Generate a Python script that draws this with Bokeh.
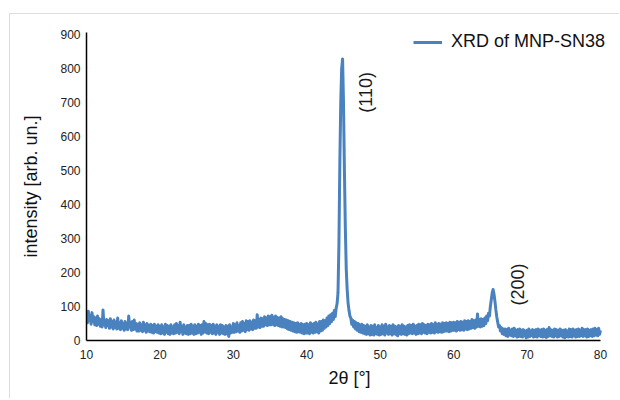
from bokeh.plotting import figure
from bokeh.models import Range1d, Legend, LegendItem, ColumnDataSource, FixedTicker
from bokeh.core.properties import value
from bokeh.embed import file_html
from bokeh.resources import INLINE
import math

series_name = "XRD of MNP-SN38"
x_label = "2θ [°]"
y_label = "intensity [arb. un.]"
x_ticks = [10, 20, 30, 40, 50, 60, 70, 80]
y_ticks = [0, 100, 200, 300, 400, 500, 600, 700, 800, 900]

two_theta_start = 10.0
two_theta_step = 0.125

intensity = [
    80, 52, 86, 58, 74, 48, 82, 56,     # 10
    70, 46, 66, 44, 72, 48, 64, 42,     # 11
    60, 40, 90, 46, 58, 38, 62, 44,     # 12
    58, 36, 64, 40, 56, 34, 60, 38,     # 13
    54, 34, 66, 36, 52, 32, 58, 36,     # 14
    50, 30, 56, 34, 48, 32, 72, 40,     # 15
    52, 30, 56, 32, 60, 34, 50, 28,     # 16
    48, 28, 52, 30, 46, 26, 54, 30,     # 17
    46, 24, 50, 28, 44, 26, 48, 24,     # 18
    44, 22, 48, 26, 42, 24, 46, 22,     # 19
    42, 20, 46, 22, 40, 18, 48, 24,     # 20
    44, 20, 42, 18, 46, 22, 40, 20,     # 21
    46, 22, 50, 24, 44, 20, 54, 26,     # 22
    42, 18, 46, 22, 40, 20, 44, 18,     # 23
    44, 20, 48, 22, 42, 18, 46, 20,     # 24
    42, 22, 48, 24, 44, 18, 46, 22,     # 25
    56, 26, 50, 22, 46, 20, 48, 24,     # 26
    44, 20, 48, 22, 42, 18, 46, 24,     # 27
    42, 18, 46, 22, 44, 20, 40, 18,     # 28
    44, 20, 42, 12, 46, 22, 40, 24,     # 29
    50, 24, 46, 26, 52, 28, 44, 24,     # 30
    52, 28, 56, 30, 50, 26, 58, 32,     # 31
    56, 30, 58, 34, 54, 32, 60, 36,     # 32
    58, 36, 76, 40, 62, 38, 66, 42,     # 33
    64, 42, 70, 46, 66, 44, 72, 46,     # 34
    70, 46, 74, 48, 68, 44, 72, 46,     # 35
    68, 44, 66, 42, 70, 40, 64, 40,     # 36
    62, 38, 60, 34, 58, 32, 56, 30,     # 37
    54, 28, 52, 26, 50, 24, 52, 26,     # 38
    48, 24, 50, 22, 46, 20, 48, 22,     # 39
    50, 22, 46, 20, 52, 24, 48, 22,     # 40
    50, 24, 54, 26, 48, 22, 56, 28,     # 41
    56, 30, 60, 36, 58, 40, 66, 44,     # 42
    72, 50, 76, 56, 80, 62, 88, 70,     # 43
    95, 108, 140, 280, 520, 700, 800, 828,  # 44
    700, 500, 330, 210, 150, 110, 88, 72,   # 45
    66, 48, 60, 40, 56, 34, 52, 30,     # 46
    50, 26, 46, 24, 48, 22, 44, 20,     # 47
    42, 18, 46, 20, 40, 16, 44, 18,     # 48
    42, 16, 46, 20, 38, 18, 44, 16,     # 49
    40, 18, 46, 20, 42, 16, 48, 22,     # 50
    40, 18, 44, 20, 42, 16, 46, 20,     # 51
    42, 18, 40, 14, 44, 20, 42, 18,     # 52
    46, 20, 42, 18, 40, 16, 44, 20,     # 53
    46, 22, 44, 20, 48, 22, 42, 18,     # 54
    44, 20, 48, 22, 46, 20, 50, 24,     # 55
    46, 22, 44, 20, 48, 24, 46, 22,     # 56
    50, 24, 46, 22, 52, 26, 48, 24,     # 57
    50, 26, 48, 24, 52, 26, 50, 28,     # 58
    52, 28, 50, 26, 54, 28, 52, 30,     # 59
    54, 30, 52, 28, 56, 32, 54, 30,     # 60
    56, 32, 54, 30, 58, 34, 56, 32,     # 61
    58, 34, 56, 36, 62, 38, 58, 36,     # 62
    60, 40, 78, 42, 62, 40, 64, 42,     # 63
    62, 44, 66, 50, 72, 58, 80, 72,     # 64
    100, 120, 140, 150, 136, 115, 90, 70,  # 65
    54, 40, 44, 28, 38, 20, 34, 18,     # 66
    34, 14, 32, 12, 36, 16, 30, 14,     # 67
    34, 12, 36, 14, 30, 10, 32, 12,     # 68
    34, 12, 30, 10, 32, 14, 28, 8,      # 69
    30, 10, 34, 12, 28, 14, 32, 10,     # 70
    30, 12, 32, 10, 34, 14, 30, 12,     # 71
    32, 10, 34, 12, 30, 9, 32, 12,      # 72
    38, 14, 32, 12, 30, 10, 34, 14,     # 73
    32, 10, 30, 12, 34, 14, 30, 10,     # 74
    30, 8, 32, 12, 28, 10, 34, 12,      # 75
    32, 10, 34, 14, 30, 10, 32, 12,     # 76
    34, 12, 30, 14, 36, 12, 32, 14,     # 77
    32, 10, 34, 12, 30, 14, 32, 12,     # 78
    34, 14, 36, 16, 32, 14, 36, 18,     # 79
    30,                                 # 80
]
two_theta = [two_theta_start + two_theta_step * i for i in range(len(intensity))]

peak_labels = ["(110)", "(200)"]
peak_label_x = [48.0, 68.7]
peak_label_y = [670, 103]

FONT = "Liberation Sans"
LINE_COLOR = "#4a81bf"

# canvas starts at page x=10; frame 86..612 px; x axis line drawn only for 10..80 (ends at 600 px)
p = figure(width=610, height=385, output_backend="svg", toolbar_location=None,
           x_range=Range1d(10, 81.634), y_range=Range1d(0, 906),
           min_border_left=76, min_border_right=8, min_border_top=18, min_border_bottom=59,
           margin=(13, 0, 0, 9))
p.styles = {"border-top": "1px solid #dddddd", "border-left": "1px solid #dddddd"}
p.outline_line_color = None
p.xgrid.grid_line_color = None
p.ygrid.grid_line_color = None
p.background_fill_color = "white"
p.border_fill_color = "white"

r = p.line(two_theta, intensity, line_color=LINE_COLOR, line_width=3, line_join="round")

src = ColumnDataSource(dict(x=peak_label_x, y=peak_label_y, t=peak_labels))
p.text(x="x", y="y", text="t", source=src, angle=math.pi / 2, text_align="left",
       text_baseline="middle", text_font=value(FONT), text_font_size="18px", text_color="#1a1a1a")

for ax, ticks in ((p.xaxis[0], x_ticks), (p.yaxis[0], y_ticks)):
    ax.ticker = FixedTicker(ticks=ticks)
    ax.axis_line_color = "black"
    ax.axis_line_width = 1.5
    ax.major_tick_line_color = None
    ax.minor_tick_line_color = None
    ax.major_tick_out = 0
    ax.major_tick_in = 0
    ax.major_label_text_font = FONT
    ax.major_label_text_font_size = "12px"
    ax.major_label_text_color = "#222222"
    ax.axis_label_text_font = FONT
    ax.axis_label_text_font_size = "18px"
    ax.axis_label_text_font_style = "normal"
    ax.axis_label_text_color = "#111111"

p.xaxis[0].bounds = (10, 80)
p.xaxis[0].axis_label = x_label
p.yaxis[0].axis_label = y_label
p.xaxis[0].major_label_standoff = 9
p.yaxis[0].major_label_standoff = 6
p.xaxis[0].axis_label_standoff = 6
p.yaxis[0].axis_label_standoff = 16

legend = Legend(items=[LegendItem(label=series_name, renderers=[r])], location=(327, 288),
                border_line_color=None, background_fill_alpha=0, padding=0, margin=0,
                glyph_width=29, glyph_height=20, label_standoff=9, spacing=0,
                label_text_font=FONT, label_text_font_size="18px", label_text_color="#111111")
p.add_layout(legend)

open("out.html", "w").write(file_html(p, INLINE))
